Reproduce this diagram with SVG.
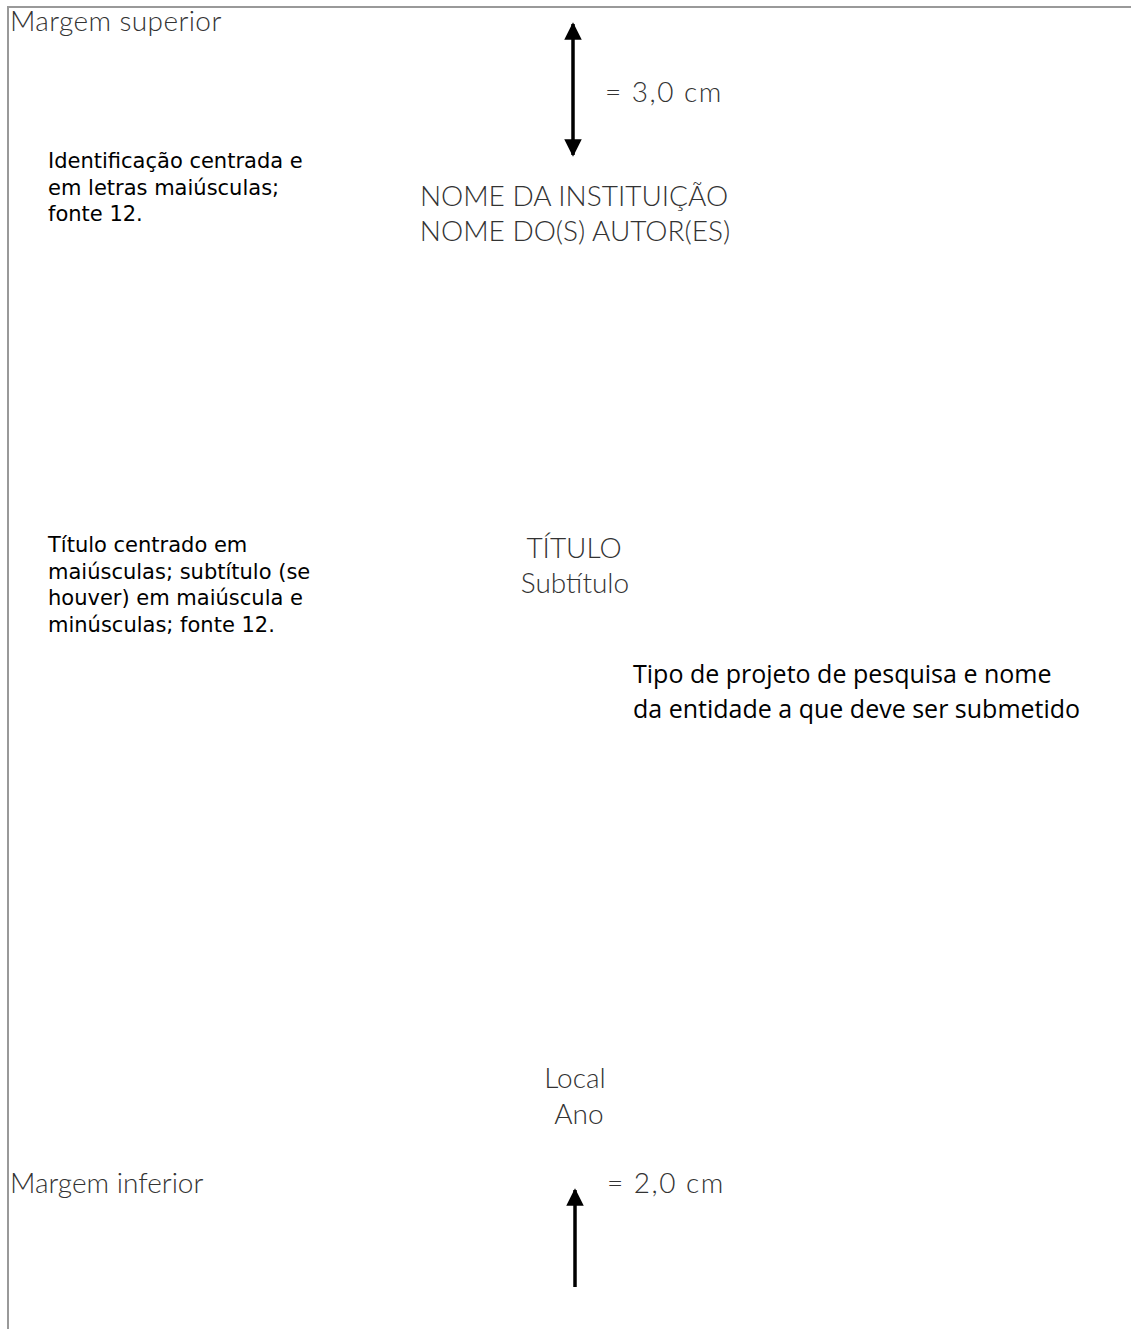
<svg xmlns="http://www.w3.org/2000/svg" width="1131" height="1329" viewBox="0 0 1131 1329">
<defs>
<style>
.fut{font-family:Lato,"Open Sans","Liberation Sans",sans-serif;font-weight:300;fill:#333;font-size:28px;}
.note{font-family:"DejaVu Sans","Liberation Sans",sans-serif;fill:#000;font-size:21px;}
.cal{font-family:"Open Sans","Liberation Sans",sans-serif;fill:#000;font-size:25px;}
.border{stroke:#999;stroke-width:2;fill:none;}
.arr{stroke:#000;stroke-width:3.5;fill:none;}
</style>
<marker id="ah" viewBox="0 0 10 10" refX="9" refY="5" markerWidth="5" markerHeight="5" markerUnits="strokeWidth" orient="auto-start-reverse">
<path d="M0,0 L10,5 L0,10 Z" fill="#000"/>
</marker>
</defs>
<rect width="1131" height="1329" fill="#fff"/>
<path class="border" d="M8,1329 L8,7 L1131,7"/>
<g id="connectors">
<line class="arr" x1="573" y1="24" x2="573" y2="155" marker-start="url(#ah)" marker-end="url(#ah)"/>
<line class="arr" x1="575" y1="1287" x2="575" y2="1190" marker-end="url(#ah)"/>
</g>
<g id="margem-superior"><text class="fut" x="10" y="31" letter-spacing="0.4">Margem superior</text></g>
<g id="medida-superior"><text class="fut" x="605" y="102" letter-spacing="1.5">= 3,0 cm</text></g>
<g id="nota-identificacao">
<text class="note" x="48" y="168">Identificação centrada e</text>
<text class="note" x="48" y="195">em letras maiúsculas;</text>
<text class="note" x="48" y="221">fonte 12.</text>
</g>
<g id="identificacao">
<text class="fut" x="574" y="206" text-anchor="middle">NOME DA INSTITUIÇÃO</text>
<text class="fut" x="575" y="241" text-anchor="middle">NOME DO(S) AUTOR(ES)</text>
</g>
<g id="nota-titulo">
<text class="note" x="48" y="552">Título centrado em</text>
<text class="note" x="48" y="579">maiúsculas; subtítulo (se</text>
<text class="note" x="48" y="605">houver) em maiúscula e</text>
<text class="note" x="48" y="632">minúsculas; fonte 12.</text>
</g>
<g id="titulo">
<text class="fut" x="574" y="558" text-anchor="middle">TÍTULO</text>
<text class="fut" x="575" y="593" text-anchor="middle">Subtítulo</text>
</g>
<g id="tipo-projeto">
<text class="cal" x="633" y="683">Tipo de projeto de pesquisa e nome</text>
<text class="cal" x="633" y="718">da entidade a que deve ser submetido</text>
</g>
<g id="local-ano">
<text class="fut" x="575" y="1088" text-anchor="middle">Local</text>
<text class="fut" x="579" y="1124" text-anchor="middle">Ano</text>
</g>
<g id="margem-inferior"><text class="fut" x="10" y="1193">Margem inferior</text></g>
<g id="medida-inferior"><text class="fut" x="607" y="1193" letter-spacing="1.5">= 2,0 cm</text></g>
</svg>
